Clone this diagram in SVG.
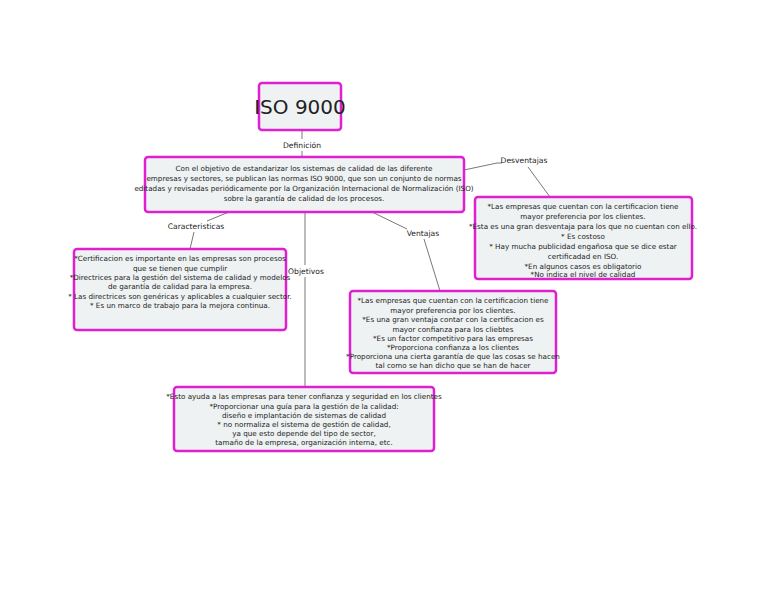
<svg xmlns="http://www.w3.org/2000/svg" width="768" height="594" viewBox="0 0 768 594">
<style>
.box{fill:#eef2f3;stroke:#e020d0;stroke-width:2.5}
.t{font-family:"DejaVu Sans",sans-serif;font-size:7.2px;fill:#222;text-anchor:middle}
.l{font-family:"DejaVu Sans",sans-serif;font-size:7.6px;fill:#222;text-anchor:middle}
.c{stroke:#555;stroke-width:0.8;fill:none}
</style>
<rect width="768" height="594" fill="#fff"/>
<g id="connectors">
<line class="c" x1="302" y1="130" x2="302" y2="139"/>
<line class="c" x1="302" y1="151" x2="302" y2="157"/>
<polyline class="c" points="464,170 497,163 502,163"/>
<line class="c" x1="528" y1="167" x2="550" y2="197"/>
<line class="c" x1="229" y1="212" x2="207" y2="221"/>
<line class="c" x1="194" y1="232" x2="190" y2="249"/>
<line class="c" x1="305" y1="212" x2="305" y2="265"/>
<line class="c" x1="305" y1="277" x2="305" y2="387"/>
<line class="c" x1="372" y1="212" x2="407" y2="229"/>
<line class="c" x1="424" y1="239" x2="440" y2="291"/>
</g>
<g id="iso"><rect class="box" x="259" y="83" width="82" height="47" rx="3"/>
<text x="300" y="114" font-family="DejaVu Sans,sans-serif" font-size="20" fill="#222" text-anchor="middle">ISO 9000</text></g>
<text class="l" x="302" y="148">Definición</text>
<g id="definicion"><rect class="box" x="145" y="157" width="319" height="55" rx="3"/>
<text class="t" x="304" y="171">Con el objetivo de estandarizar los sistemas de calidad de las diferente</text>
<text class="t" x="304" y="181">empresas y sectores, se publican las normas ISO 9000, que son un conjunto de normas</text>
<text class="t" x="304" y="191">editadas y revisadas periódicamente por la Organización Internacional de Normalización (ISO)</text>
<text class="t" x="304" y="201">sobre la garantía de calidad de los procesos.</text></g>
<text class="l" x="524" y="163">Desventajas</text>
<g id="desventajas"><rect class="box" x="475" y="197" width="217" height="82" rx="3"/>
<text class="t" x="583" y="209">*Las empresas que cuentan con la certificacion tiene</text>
<text class="t" x="583" y="219">mayor preferencia por los clientes.</text>
<text class="t" x="583" y="229">*Esta es una gran desventaja para los que no cuentan con ello.</text>
<text class="t" x="583" y="239">* Es costoso</text>
<text class="t" x="583" y="249">* Hay mucha publicidad engañosa que se dice estar</text>
<text class="t" x="583" y="259">certificadad en ISO.</text>
<text class="t" x="583" y="269">*En algunos casos es obligatorio</text>
<text class="t" x="583" y="277">*No indica el nivel de calidad</text></g>
<text class="l" x="196" y="229">Caracteristicas</text>
<g id="caracteristicas"><rect class="box" x="74" y="249" width="212" height="81" rx="3"/>
<text class="t" x="180" y="261">*Certificacion es importante en las empresas son procesos</text>
<text class="t" x="180" y="271">que se tienen que cumplir</text>
<text class="t" x="180" y="280">*Directrices para la gestión del sistema de calidad y modelos</text>
<text class="t" x="180" y="289">de garantía de calidad para la empresa.</text>
<text class="t" x="180" y="299">* Las directrices son genéricas y aplicables a cualquier sector.</text>
<text class="t" x="180" y="308">* Es un marco de trabajo para la mejora continua.</text></g>
<text class="l" x="306" y="274">Objetivos</text>
<text class="l" x="423" y="236">Ventajas</text>
<g id="ventajas"><rect class="box" x="350" y="291" width="206" height="82" rx="3"/>
<text class="t" x="453" y="303">*Las empresas que cuentan con la certificacion tiene</text>
<text class="t" x="453" y="313">mayor preferencia por los clientes.</text>
<text class="t" x="453" y="322">*Es una gran ventaja contar con la certificacion es</text>
<text class="t" x="453" y="332">mayor confianza para los cliebtes</text>
<text class="t" x="453" y="341">*Es un factor competitivo para las empresas</text>
<text class="t" x="453" y="350">*Proporciona confianza a los clientes</text>
<text class="t" x="453" y="359">*Proporciona una cierta garantía de que las cosas se hacen</text>
<text class="t" x="453" y="368">tal como se han dicho que se han de hacer</text></g>
<g id="objetivos"><rect class="box" x="174" y="387" width="260" height="64" rx="3"/>
<text class="t" x="304" y="399">*Esto ayuda a las empresas para tener confianza y seguridad en los clientes</text>
<text class="t" x="304" y="409">*Proporcionar una guía para la gestión de la calidad:</text>
<text class="t" x="304" y="418">diseño e implantación de sistemas de calidad</text>
<text class="t" x="304" y="427">* no normaliza el sistema de gestión de calidad,</text>
<text class="t" x="304" y="436">ya que esto depende del tipo de sector,</text>
<text class="t" x="304" y="445">tamaño de la empresa, organización interna, etc.</text></g>
</svg>
